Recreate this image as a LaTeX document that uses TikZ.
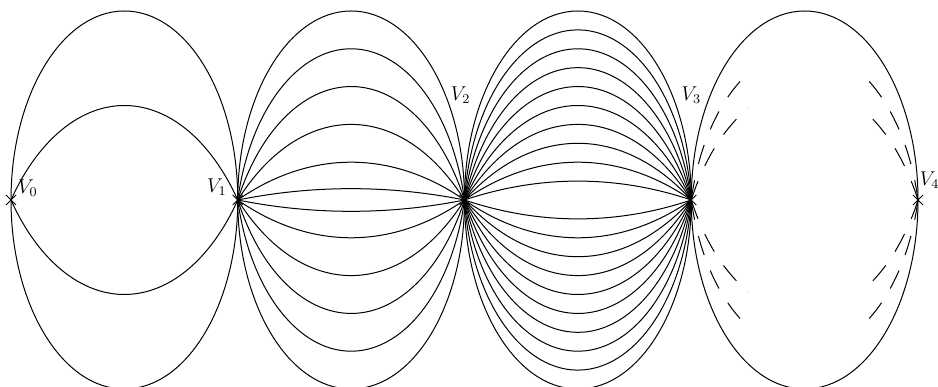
\documentclass[tikz,border=0pt]{standalone}
\usetikzlibrary{shapes.misc}
\begin{document}
\begin{tikzpicture}[x=0.6pt,y=0.6pt,
  vtx/.style={cross out,draw,minimum size=5.4pt,inner sep=0pt,line width=0.6pt},
  lab/.style={inner sep=0pt,font=\fontsize{11.5}{13}\selectfont},
  edge/.style={line width=0.6pt},
  dedge/.style={line width=0.6pt,dash pattern=on 12pt off 10pt}]
\clip (0,0) rectangle (938,387);
\def\hw{113.375}
\def\HH{189}
\node[vtx] (V0) at (11,187) {};
\node[vtx] (V1) at (237.75,187) {};
\node[vtx] (V2) at (464.5,187) {};
\node[vtx] (V3) at (691.25,187) {};
\node[vtx] (V4) at (918,187) {};
\node[lab] (L0) at (27.8,199) {$V_0$};
\node[lab] (L1) at (216.8,199.8) {$V_1$};
\node[lab] (L2) at (460.5,291.7) {$V_2$};
\node[lab] (L3) at (691.3,291.7) {$V_3$};
\node[lab,anchor=west] (L4) at (919.5,207) {$V_4$};
% upper and lower arcs between consecutive vertices
\foreach \s/\ts in {V0/{0.5,1},V1/{0.06,0.2,0.4,0.6,0.8,1},V2/{0.1,0.2,0.3,0.4,0.5,0.6,0.7,0.8,0.9,1},V3/{1}} {
  \foreach \t in \ts {
    \pgfmathsetmacro\al{90-2*atan(\t)}
    \pgfmathsetmacro\rx{\hw*(1+\t*\t)/(2*\t)}
    \pgfmathsetmacro\ry{\HH*(1+\t*\t)/(2*\t)}
    \draw[edge] (\s.center) arc[start angle=180-\al, end angle=\al, x radius=\rx, y radius=\ry];
    \draw[edge] (\s.center) arc[start angle=180+\al, end angle=360-\al, x radius=\rx, y radius=\ry];
  }
}
% dashed partial arcs between V3 and V4
\begin{scope}
\clip (680,0) rectangle (748.5,387);
\foreach \t in {0.6,0.8} {
  \pgfmathsetmacro\al{90-2*atan(\t)}
  \pgfmathsetmacro\rx{\hw*(1+\t*\t)/(2*\t)}
  \pgfmathsetmacro\ry{\HH*(1+\t*\t)/(2*\t)}
  \draw[dedge] (V3.center) arc[start angle=180-\al, end angle=\al, x radius=\rx, y radius=\ry];
  \draw[dedge] (V3.center) arc[start angle=180+\al, end angle=360-\al, x radius=\rx, y radius=\ry];
}
\end{scope}
\begin{scope}
\clip (861,0) rectangle (930,387);
\foreach \t in {0.6,0.8} {
  \pgfmathsetmacro\al{90-2*atan(\t)}
  \pgfmathsetmacro\rx{\hw*(1+\t*\t)/(2*\t)}
  \pgfmathsetmacro\ry{\HH*(1+\t*\t)/(2*\t)}
  \draw[dedge] (V4.center) arc[start angle=\al, end angle=180-\al, x radius=\rx, y radius=\ry];
  \draw[dedge] (V4.center) arc[start angle=360-\al, end angle=180+\al, x radius=\rx, y radius=\ry];
}
\end{scope}
\end{tikzpicture}
\end{document}
